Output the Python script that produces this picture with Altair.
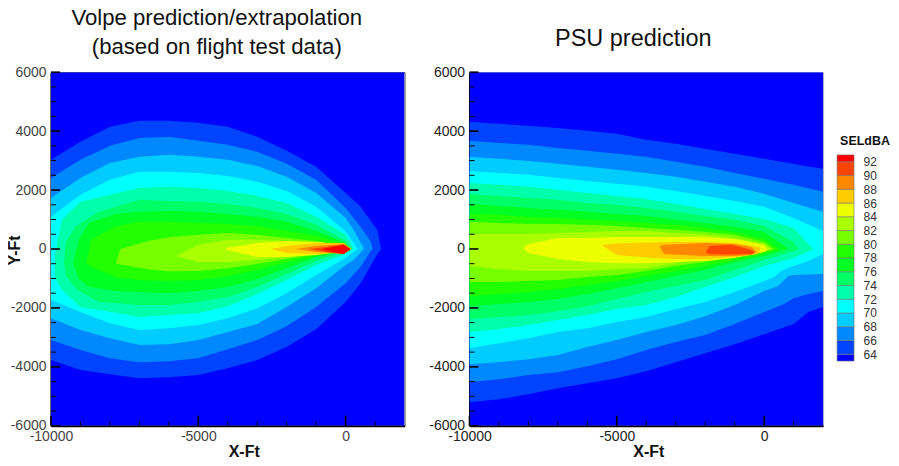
import altair as alt
import pandas as pd

FONT = "Liberation Sans"
S = [-10000, -9000, -8000, -7000, -6000, -5000, -4000, -3000, -2000, -1000, 0]
band_levels = [63, 64, 66, 68, 70, 72, 74, 76, 78, 80, 82, 84, 86, 88, 90, 92, 93]
band_colors = ["#0000ff", "#0044ff", "#0088ff", "#00ccff", "#00ffff", "#00ffaa", "#00ff66", "#00ff22",
               "#22ff00", "#77ff00", "#aaff00", "#eeff00", "#ffcc00", "#ff8800", "#ff4400", "#ff0000"]
base_x = [-10000, 2000]
base_top = [6000, 6000]
base_bot = [-6000, -6000]

# Volpe panel: contour outlines (x, upper y, lower y), lowest level first
v64 = (S + [510, 1080, 1190],
       [3030, 3640, 4150, 4350, 4350, 4280, 4150, 3810, 3330, 2790, 1900, 1430, 640, 70],
       [-3770, -4110, -4250, -4390, -4350, -4280, -4050, -3770, -3330, -2720, -1800, -1160, -170, -30])
v66 = (S + [510, 850, 915],
       [2410, 3030, 3500, 3770, 3810, 3670, 3540, 3300, 2890, 2350, 1390, 750, 250, 10],
       [-3090, -3430, -3710, -3840, -3810, -3710, -3400, -3090, -2620, -1970, -1160, -600, -70, -10])
v68 = (S + [270, 610],
       [1730, 2410, 2920, 3130, 3200, 3130, 3030, 2820, 2450, 1900, 1050, 650, 40],
       [-2350, -2750, -3030, -3260, -3230, -3090, -2820, -2550, -1970, -1330, -540, -370, -20])
v70 = (S + [410],
       [1090, 1840, 2350, 2620, 2620, 2580, 2480, 2280, 1970, 1430, 600, 0],
       [-1730, -2140, -2520, -2750, -2690, -2580, -2350, -2010, -1500, -880, -310, 0])
v72 = ([-9860, -9630] + S[1:] + [270],
       [-200, 990, 1600, 1840, 2070, 2110, 2070, 1970, 1800, 1560, 1090, 480, 0],
       [-950, -1390, -1970, -2130, -2310, -2240, -2180, -1940, -1530, -1050, -540, -170, 0])
v74 = ([-9560, -9490, -9150, -8370] + S[3:] + [200],
       [-470, 240, 780, 1260, 1670, 1630, 1600, 1530, 1390, 1190, 820, 270, 0],
       [-470, -920, -1360, -1800, -1900, -1900, -1800, -1630, -1290, -850, -410, -70, 0])
v76 = ([-9250, -9050, -8700, -7800] + S[3:] + [200],
       [-470, 310, 880, 1190, 1260, 1290, 1260, 1190, 1090, 920, 610, 200, 0],
       [-470, -1020, -1290, -1430, -1460, -1500, -1430, -1290, -1020, -650, -270, -70, 0])
v78 = ([-8800, -8640, -7800, -7000] + S[4:] + [200],
       [-470, 310, 780, 920, 920, 880, 850, 780, 610, 440, 140, 0],
       [-480, -600, -950, -1050, -1090, -1050, -920, -710, -440, -240, -70, 0])
v80 = ([-7790, -7650, -6700, -6000] + S[5:] + [200],
       [-470, 0, 270, 400, 480, 540, 480, 370, 270, 100, 0],
       [-490, -530, -690, -760, -750, -650, -510, -340, -170, -70, 0])
v82 = ([-5750] + S[5:] + [200],
       [-240, 140, 310, 310, 270, 200, 70, 0],
       [-240, -440, -440, -370, -270, -140, -50, 0])
v84 = ([-4070, -3000, -2000, -1000, 0, 200], [30, 200, 270, 240, 140, 0], [-30, -270, -270, -200, -80, 0])
v86 = ([-2540, -2000, -1000, -60, 170], [0, 100, 200, 200, 0], [0, -140, -170, -100, 0])
v88 = ([-1700, -1000, -70, 170], [0, 100, 170, 0], [0, -100, -170, 0])
v90 = ([-1250, -680, -70, 170], [0, 70, 150, 0], [0, -100, -170, 0])
v92 = ([-780, -70, 170], [0, 140, 0], [-30, -170, 0])

# PSU panel
p64 = (S + [1000, 1500, 2000],
       [4320, 4250, 4180, 4110, 4010, 3910, 3710, 3570, 3400, 3230, 3060, 2890, 2800, 2720],
       [-5200, -5100, -4930, -4730, -4560, -4390, -4150, -3840, -3540, -3230, -2890, -2550, -2140, -1970])
p66 = (S + [680, 1000, 1500, 2000],
       [3670, 3600, 3540, 3430, 3330, 3230, 3130, 2960, 2790, 2580, 2380, 2240, 2180, 2060, 1940],
       [-4520, -4420, -4280, -4180, -3980, -3740, -3430, -3160, -2920, -2550, -2140, -1870, -1670, -1530, -1430])
p68 = (S + [480, 820, 1000, 2000],
       [3130, 3060, 2990, 2890, 2790, 2690, 2580, 2450, 2280, 2110, 1870, 1720, 1620, 1560, 1260],
       [-3910, -3840, -3740, -3600, -3330, -3090, -2820, -2580, -2280, -1900, -1430, -1260, -920, -880, -850])
p70 = (S + [340, 580, 1000, 1500, 2000],
       [2650, 2580, 2520, 2410, 2310, 2210, 2110, 1970, 1800, 1630, 1430, 1300, 1210, 1050, 830, 610],
       [-3370, -3200, -3030, -2820, -2690, -2480, -2310, -2040, -1800, -1460, -1090, -950, -750, -580, -410, -170])
p72 = (S + [1000, 1670],
       [2240, 2180, 2110, 2010, 1900, 1800, 1700, 1530, 1360, 1190, 1020, 710, 0],
       [-2820, -2720, -2580, -2410, -2240, -2040, -1900, -1630, -1290, -950, -580, -310, 0])
p74 = (S + [1000, 1160],
       [1870, 1800, 1730, 1670, 1560, 1500, 1390, 1260, 1120, 990, 780, 240, 0],
       [-2380, -2310, -2240, -2110, -1940, -1700, -1460, -1260, -1050, -710, -370, -70, 0])
p76 = (S + [820],
       [1530, 1460, 1390, 1330, 1260, 1190, 1120, 990, 880, 750, 580, 0],
       [-1940, -1870, -1800, -1700, -1530, -1330, -1120, -920, -710, -440, -240, 0])
p78 = (S + [510],
       [1190, 1160, 1090, 1050, 990, 950, 880, 820, 710, 580, 340, 0],
       [-1600, -1530, -1460, -1360, -1220, -1090, -920, -750, -580, -370, -170, 0])
p80 = (S + [340],
       [920, 880, 850, 850, 820, 780, 710, 650, 580, 480, 240, 0],
       [-1120, -1120, -1090, -1050, -950, -880, -750, -580, -440, -270, -100, 0])
p82 = (S + [240],
       [510, 510, 510, 540, 580, 610, 610, 540, 480, 370, 170, 0],
       [-580, -680, -750, -750, -750, -680, -650, -480, -340, -200, -100, 0])
p84 = ([-8160] + S[2:] + [100],
       [70, 170, 370, 370, 410, 410, 410, 410, 340, 140, 0],
       [0, -140, -340, -440, -480, -480, -440, -410, -310, -100, 0])
p86 = ([-5470, -5000, -4000, -3000, -2000, -1000, -200, -120],
       [140, 190, 220, 240, 240, 200, 70, 0],
       [100, -200, -290, -340, -340, -270, -170, 0])
p88 = ([-3540, -3400, -2000, -1000, -440, -270],
       [100, 140, 200, 170, 70, -100],
       [70, -170, -240, -240, -200, -100])
p90 = ([-1970, -1870, -1120, -440, -330],
       [-100, 100, 140, -30, -100],
       [-140, -170, -190, -170, -140])

volpe_levels = [(base_x, base_top, base_bot), v64, v66, v68, v70, v72, v74, v76, v78, v80, v82, v84, v86, v88, v90, v92]
psu_levels = [(base_x, base_top, base_bot), p64, p66, p68, p70, p72, p74, p76, p78, p80, p82, p84, p86, p88, p90]

x_major = [-10000, -5000, 0]
x_minor = [-9000, -8000, -7000, -6000, -4000, -3000, -2000, -1000, 1000]
y_major = [-6000, -4000, -2000, 0, 2000, 4000, 6000]
y_minor = [-5500, -5000, -4500, -3500, -3000, -2500, -1500, -1000, -500,
           500, 1000, 1500, 2500, 3000, 3500, 4500, 5000, 5500]
legend_ticks = [64, 66, 68, 70, 72, 74, 76, 78, 80, 82, 84, 86, 88, 90, 92]

W = 354
H = 354
xs = alt.Scale(domain=[-10000, 2000], nice=False, zero=False)
ys = alt.Scale(domain=[-6000, 6000], nice=False, zero=False)


def panel(levels, title, title_size, title_offset, title_dx, xtitle_x, ytitle, label_color, view_stroke):
    x_axis = alt.Axis(
        values=x_major, title="X-Ft", titleFont=FONT, titleFontSize=16, titleFontWeight="bold",
        titleColor="#111", titleX=xtitle_x, titleY=18, labelFont=FONT, labelFontSize=14,
        labelColor=label_color, labelPadding=4, labelFlush=False, labelOverlap=False,
        ticks=False, grid=False, domainColor="#000", domainWidth=2,
        labelExpr="'' + datum.value")
    y_title = {"title": "Y-Ft", "titleFont": FONT, "titleFontSize": 16, "titleFontWeight": "bold",
               "titleColor": "#111", "titleX": -28, "titleY": 178} if ytitle else {"title": None}
    y_axis = alt.Axis(
        values=y_major, labelFont=FONT, labelFontSize=14, labelColor=label_color, labelPadding=5,
        labelFlush=False, labelOverlap=False, ticks=False, grid=False, domainColor="#000",
        domainWidth=2, labelExpr="'' + datum.value", **y_title)
    layers = []
    for i, (x, top, bot) in enumerate(levels):
        d = pd.DataFrame({"x": x, "top": top, "bot": bot})
        layers.append(alt.Chart(d).mark_area(color=band_colors[i], clip=True, interpolate="linear").encode(
            x=alt.X("x:Q", scale=xs, axis=x_axis),
            y=alt.Y("top:Q", scale=ys, axis=y_axis),
            y2="bot:Q",
        ))

    def xticks(vals, length, w):
        return alt.Chart(pd.DataFrame({"v": vals})).mark_rule(color="#000", strokeWidth=w).encode(
            x=alt.X("v:Q", scale=xs, axis=x_axis), y=alt.value(H), y2=alt.value(H - length))

    def yticks(vals, length, w):
        return alt.Chart(pd.DataFrame({"v": vals})).mark_rule(color="#000", strokeWidth=w).encode(
            y=alt.Y("v:Q", scale=ys, axis=y_axis), x=alt.value(0), x2=alt.value(length))

    layers += [xticks(x_major, 10, 1.6), xticks(x_minor, 4, 1), yticks(y_major, 9, 1.6), yticks(y_minor, 5, 1)]
    return alt.layer(*layers).properties(
        width=W, height=H, view=alt.ViewConfig(stroke=view_stroke),
        title=alt.TitleParams(text=title, font=FONT, fontSize=title_size, fontWeight="normal", color="#111",
                              lineHeight=29, offset=title_offset, dx=title_dx, anchor="middle"))


left = panel(volpe_levels, ["Volpe prediction/extrapolation", "(based on flight test data)"], 22.2, 7, -11, 193, True,
             "#444", "#555")
right = panel(psu_levels, "PSU prediction", 23.5, 15, -13, 179, False, "#222", "#aab")

spacer = alt.Chart(pd.DataFrame({"v": [0]})).mark_point(opacity=0).encode(
    x=alt.value(0), y=alt.value(0)).properties(width=35, height=H, view=alt.ViewConfig(stroke="transparent"))

leg_scale = alt.Scale(domain=[53.58, 105.04], nice=False, zero=False)
leg_axis = alt.Axis(
    orient="right", values=legend_ticks, title=None, domain=False, ticks=False, grid=False,
    labelFont=FONT, labelFontSize=12, labelColor="#333", labelPadding=8, labelOverlap=False)
leg_df = pd.DataFrame({"lo": band_levels[:-1], "hi": band_levels[1:], "c": band_colors})
cells = alt.Chart(leg_df).mark_rect(stroke="#777", strokeWidth=0.6).encode(
    x=alt.value(-1), x2=alt.value(16),
    y=alt.Y("lo:Q", scale=leg_scale, axis=leg_axis),
    y2="hi:Q",
    color=alt.Color("c:N", scale=None, legend=None),
)
leg_title = alt.Chart(pd.DataFrame({"t": ["SELdBA"], "y": [95]})).mark_text(
    font=FONT, fontSize=12.5, fontWeight="bold", color="#111", align="center", baseline="middle"
).encode(text="t:N", x=alt.value(27), y=alt.Y("y:Q", scale=leg_scale, axis=leg_axis))
legend = alt.layer(cells, leg_title).properties(
    width=17, height=H, view=alt.ViewConfig(stroke="transparent"))

chart = alt.hconcat(left, spacer, right, legend, spacing=15, bounds="flush").properties(
    padding={"left": -2, "top": -2, "right": 0, "bottom": 0})
chart = chart.configure_view(strokeWidth=1)
chart.save("out.html", embed_options={"renderer": "svg", "actions": False})
